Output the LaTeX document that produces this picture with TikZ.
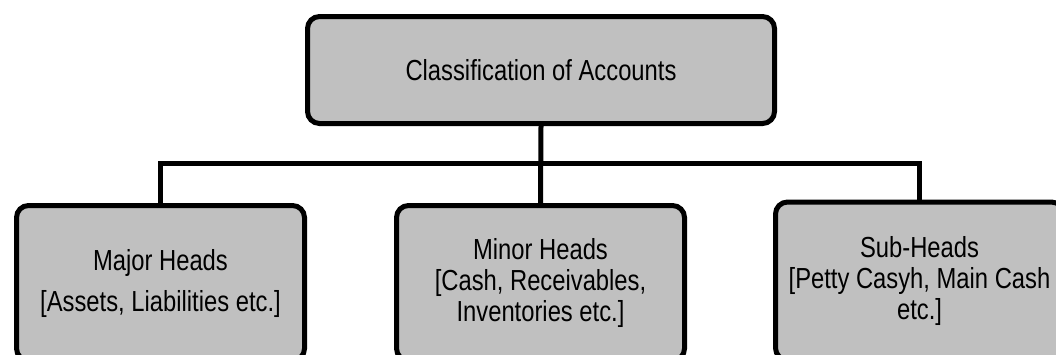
\documentclass[tikz,border=0pt]{standalone}
\usepackage{fontspec}
\setmainfont{Liberation Sans}[FakeStretch=0.82]
\definecolor{boxgray}{RGB}{192,192,192}
\begin{document}
\begin{tikzpicture}[x=1pt,y=-1pt,
  headbox/.style={draw=black, line width=5pt, fill=boxgray, rounded corners=12pt,
    align=center, inner sep=0pt, font=\fontsize{29}{31}\selectfont},
  link/.style={draw=black, line width=5pt}]
  \useasboundingbox (0,0) rectangle (1056,354);
  % root of the classification
  \node[headbox, minimum width=467pt, minimum height=107pt] (root) at (541,70)
    {Classification of Accounts};
  % the three levels of heads
  \node[headbox, minimum width=288pt, minimum height=155pt] (major) at (160.5,283)
    {Major Heads\\[10pt][Assets, Liabilities etc.]};
  \node[headbox, minimum width=288pt, minimum height=155pt] (minor) at (540.5,283)
    {Minor Heads\\{}[Cash, Receivables,\\Inventories etc.]};
  \node[headbox, minimum width=288pt, minimum height=158pt] (sub) at (919.5,281)
    {Sub-Heads\\{}[Petty Casyh, Main Cash\\etc.]};
  % tree connectors
  \coordinate (bus) at (0,163);
  \draw[link] (root.south) -- (minor.north);
  \draw[link] (major.north) -- (major.north |- bus) -- (sub.north |- bus) -- (sub.north);
\end{tikzpicture}
\end{document}
